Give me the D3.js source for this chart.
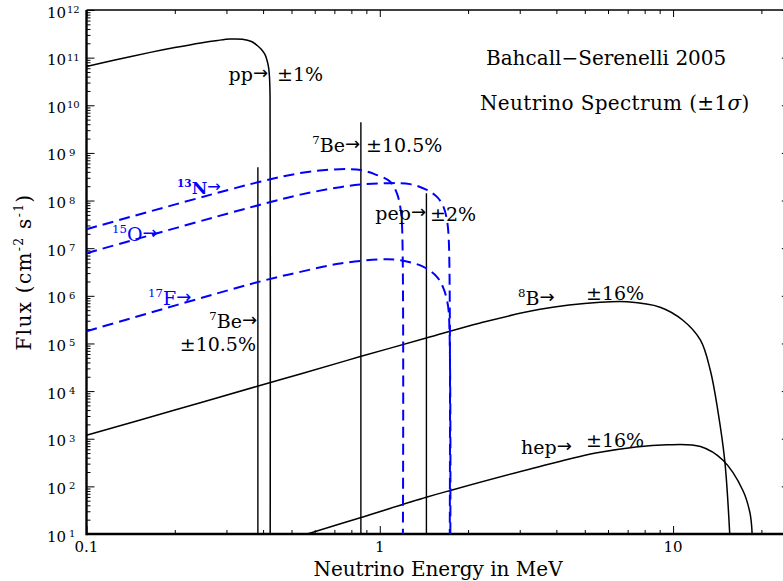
<!DOCTYPE html>
<html><head><meta charset="utf-8">
<script src="https://cdn.jsdelivr.net/npm/d3@7"></script>
<style>
html,body{margin:0;padding:0;background:#fff;}
svg{display:block;}
text{font-family:"DejaVu Serif",serif;}
</style></head><body>
<svg id="chart" width="783" height="581"></svg>
<script>
// ---- data (MeV, cm^-2 s^-1 [MeV^-1]) ----
const ppEnergy  = [0.1, 0.125, 0.165, 0.2, 0.245, 0.28, 0.309, 0.34, 0.365, 0.382, 0.395, 0.407, 0.414, 0.418, 0.421, 0.4225, 0.423];
const ppFlux    = [6.5e10, 8.9e10, 1.29e11, 1.63e11, 2.04e11, 2.3e11, 2.45e11, 2.42e11, 2.18e11, 1.8e11, 1.48e11, 1.13e11, 8.1e10, 6.0e10, 3.5e10, 1.5e10, 10];

const n13Energy = [0.1, 0.386, 0.536, 0.678, 0.793, 0.862, 0.96, 1.086, 1.144, 1.174, 1.19, 1.199];
const n13Flux   = [2.5e7, 2.44e8, 3.77e8, 4.46e8, 4.57e8, 4.37e8, 3.59e8, 2.47e8, 1.41e8, 7.4e7, 3.35e7, 10];

const o15Energy = [0.1, 0.386, 0.536, 0.733, 0.858, 1.086, 1.27, 1.44, 1.57, 1.65, 1.694, 1.719, 1.732];
const o15Flux   = [7.85e6, 8.0e7, 1.33e8, 1.91e8, 2.16e8, 2.32e8, 2.21e8, 1.69e8, 1.18e8, 7.3e7, 3.9e7, 1.47e7, 10];

const f17Energy = [0.1, 0.386, 0.536, 0.733, 1.0, 1.174, 1.41, 1.566, 1.65, 1.694, 1.719, 1.74];
const f17Flux   = [1.8e5, 1.96e6, 3.18e6, 4.77e6, 5.8e6, 5.6e6, 4.05e6, 2.5e6, 1.42e6, 8.1e5, 4.5e5, 10];

const b8Energy  = [0.1, 0.2, 0.385, 0.536, 0.858, 1.44, 2.2, 3.52, 5.64, 6.97, 9.03, 10.8, 12.4, 13.4, 14.2, 15.0, 15.6];
const b8Flux    = [1.18e3, 4.0e3, 1.28e4, 2.29e4, 5.3e4, 1.3e5, 2.69e5, 5.2e5, 7.3e5, 7.5e5, 5.77e5, 3.07e5, 1.17e5, 2.7e4, 4.0e3, 3.5e2, 10];

const hepEnergy = [0.566, 0.858, 1.44, 1.74, 3.33, 5.64, 9.54, 12.4, 14.8, 17.3, 18.3, 18.6];
const hepFlux   = [10, 22, 59, 82, 239, 518, 745, 685, 352, 82, 27, 10];

const lineEnergy = [0.384, 0.862, 1.442];   // 7Be, 7Be, pep lines
const lineFlux   = [5.0e8, 4.4e9, 1.43e8];

const xMajorTicks  = [0.1, 1, 10];
const xTickLabels  = ["0.1", "1", "10"];
const yExponents   = [1,2,3,4,5,6,7,8,9,10,11,12];

// ---- layout ----
const svg = d3.select("#chart");
const x = d3.scaleLog().domain([0.1, 25]).range([86.5, 789.8]);
const y = d3.scaleLog().domain([10, 1e12]).range([534, 10]);

const xMinor = [];
[0.1, 1, 10].forEach(d => { for (let k = 2; k <= 9; k++) { const v = d * k; if (v <= 25) xMinor.push(v); } });
const yMajor = yExponents.map(e => Math.pow(10, e));
const yMinor = [];
for (let e = 1; e < 12; e++) for (let k = 2; k <= 9; k++) yMinor.push(k * Math.pow(10, e));

function tickAxis(axis, tr) {
  const g = svg.append("g").attr("transform", tr).call(axis);
  g.select(".domain").remove();
  g.selectAll(".tick line").attr("stroke", "#000").attr("stroke-width", 1);
  g.selectAll(".tick text").remove();
  return g;
}
tickAxis(d3.axisBottom(x).tickValues(xMajorTicks).tickSize(-8).tickFormat(""), "translate(0,534)");
tickAxis(d3.axisBottom(x).tickValues(xMinor).tickSize(-4).tickFormat(""), "translate(0,534)");
tickAxis(d3.axisTop(x).tickValues(xMajorTicks).tickSize(-7).tickFormat(""), "translate(0,10)");
tickAxis(d3.axisTop(x).tickValues(xMinor).tickSize(-4).tickFormat(""), "translate(0,10)");
tickAxis(d3.axisLeft(y).tickValues(yMajor).tickSize(-8).tickFormat(""), "translate(86.5,0)");
tickAxis(d3.axisLeft(y).tickValues(yMinor).tickSize(-4).tickFormat(""), "translate(86.5,0)");
tickAxis(d3.axisRight(y).tickValues(yMajor).tickSize(-8).tickFormat(""), "translate(789.8,0)");
tickAxis(d3.axisRight(y).tickValues(yMinor).tickSize(-4).tickFormat(""), "translate(789.8,0)");

// frame
const x0 = x.range()[0], x1 = x.range()[1], y0 = y.range()[0], y1 = y.range()[1];
svg.append("line").attr("x1", x0).attr("x2", x1).attr("y1", y1).attr("y2", y1).attr("stroke", "#000").attr("stroke-width", 1.4);
svg.append("line").attr("x1", x1).attr("x2", x1).attr("y1", y1).attr("y2", y0).attr("stroke", "#000").attr("stroke-width", 1.4);
svg.append("line").attr("x1", x0).attr("x2", x1).attr("y1", y0).attr("y2", y0).attr("stroke", "#000").attr("stroke-width", 2.4);
svg.append("line").attr("x1", x0).attr("x2", x0).attr("y1", y1).attr("y2", y0 + 1.2).attr("stroke", "#000").attr("stroke-width", 2.4);

// clip
svg.append("clipPath").attr("id", "plot").append("rect")
  .attr("x", x0).attr("y", y1).attr("width", x1 - x0).attr("height", y0 - y1);
const plot = svg.append("g").attr("clip-path", "url(#plot)");

const line = d3.line().x(d => x(d[0])).y(d => y(d[1])).curve(d3.curveCatmullRom.alpha(0.5));
const zip = (a, b) => a.map((v, i) => [v, b[i]]);

// lines (monochromatic)
lineEnergy.forEach((e, i) => {
  plot.append("line").attr("x1", x(e)).attr("x2", x(e)).attr("y1", y(lineFlux[i])).attr("y2", y0)
    .attr("stroke", "#000").attr("stroke-width", 1.4);
});

// continuous spectra
[[ppEnergy, ppFlux], [b8Energy, b8Flux], [hepEnergy, hepFlux]].forEach(([e, f]) => {
  plot.append("path").attr("d", line(zip(e, f))).attr("fill", "none").attr("stroke", "#000").attr("stroke-width", 1.5);
});
[[n13Energy, n13Flux], [o15Energy, o15Flux], [f17Energy, f17Flux]].forEach(([e, f]) => {
  plot.append("path").attr("d", line(zip(e, f))).attr("fill", "none").attr("stroke", "#0000ff")
    .attr("stroke-width", 2).attr("stroke-dasharray", "11,6");
});

// ---- text helper ----
function addText(px, py, anchor, size, parts, color, weight, parent) {
  const t = (parent || svg).append("text").attr("x", px).attr("y", py).attr("text-anchor", anchor)
    .style("font-size", size + "px").attr("fill", color || "#000").style("font-weight", weight || "normal");
  let cur = 0;
  parts.forEach(p => {
    const [str, type] = Array.isArray(p) ? p : [p, "n"];
    let fs = size, shift = 0;
    if (type === "sup") { fs = size * 0.62; shift = -0.42 * size; }
    if (type === "arr") { fs = size * 0.95; shift = -0.1 * size; }
    const ts = t.append("tspan").text(str).style("font-size", fs + "px").attr("dy", (shift - cur) + "px");
    if (type === "it") ts.style("font-style", "italic");
    if (type === "arr") ts.style("font-family", "'DejaVu Sans'").style("font-weight", "normal");
    cur = shift;
  });
  return t;
}

// y tick labels
yExponents.forEach(e => {
  const ty = y(Math.pow(10, e));
  addText(47, ty + 7.5, "start", 15, ["10"]);
  addText(e >= 10 ? 67 : 69, ty + 3, "start", 10, [String(e)]);
});
// x tick labels
xMajorTicks.forEach((v, i) => addText(x(v), 552, "middle", 15, [xTickLabels[i]]));

// axis titles
addText(438, 576, "middle", 20, ["Neutrino Energy in MeV"]);
addText(0, 0, "middle", 20, ["Flux (cm", ["-2", "sup"], " s", ["-1", "sup"], ")"])
  .style("letter-spacing", "1.3px")
  .attr("transform", "translate(31,272) rotate(-90)");

// titles
addText(486, 65, "start", 20, ["Bahcall\u2212Serenelli 2005"]);
addText(480, 110, "start", 20, ["Neutrino Spectrum (\u00b11", ["\u03c3", "it"], ")"]).style("letter-spacing", "0.35px");

// source labels
addText(268, 81, "end", 19, ["pp", ["\u2192", "arr"]]);
addText(277, 81, "start", 19, ["\u00b11%"]);
addText(360, 152, "end", 19, [["7", "sup"], ["Be", "n"], ["\u2192", "arr"]]);
addText(366, 152, "start", 19, ["\u00b110.5%"]);
addText(426, 220, "end", 19, ["pep", ["\u2192", "arr"]]);
addText(430, 221, "start", 19, ["\u00b12%"]);
addText(257, 328, "end", 19, [["7", "sup"], ["Be", "n"], ["\u2192", "arr"]]);
addText(256, 351, "end", 19, ["\u00b110.5%"]);
addText(518, 305, "start", 19, [["8", "sup"], ["B", "n"], ["\u2192", "arr"]]);
addText(586, 300, "start", 19, ["\u00b116%"]);
addText(521, 454, "start", 19, ["hep", ["\u2192", "arr"]]);
addText(586, 447, "start", 19, ["\u00b116%"]);

addText(177, 194, "start", 17, [["13", "sup"], ["N", "n"], ["\u2192", "arr"]], "#0000ff", "bold");
addText(112, 241, "start", 19, [["15", "sup"], ["O", "n"], ["\u2192", "arr"]], "#0000ff");
addText(148, 305, "start", 19, [["17", "sup"], ["F", "n"], ["\u2192", "arr"]], "#0000ff");
</script>
</body></html>
